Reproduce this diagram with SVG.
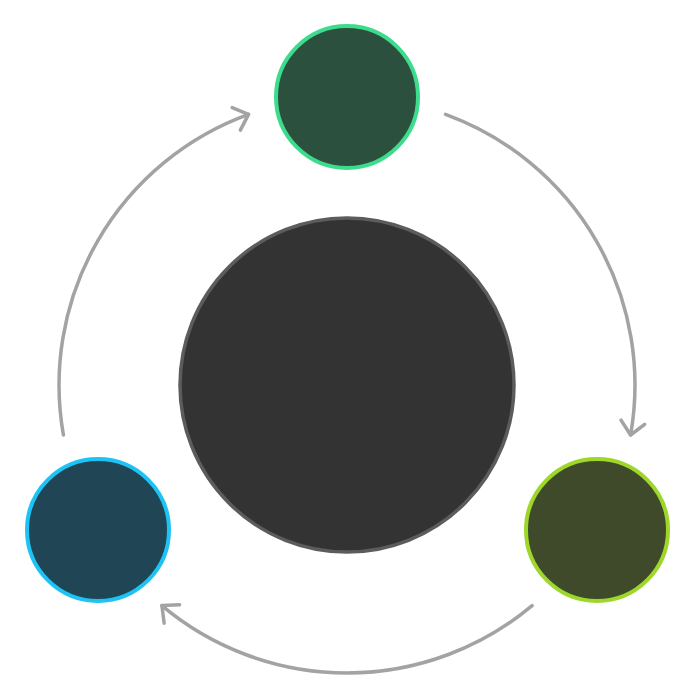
<svg xmlns="http://www.w3.org/2000/svg" width="695" height="700" viewBox="0 0 695 700">
  <style>
    .arc { fill: none; stroke: #a3a3a3; stroke-width: 3.5; stroke-linecap: round; }
    .node { stroke-width: 4; }
  </style>
  <defs>
    <marker id="chev" markerUnits="userSpaceOnUse" markerWidth="40" markerHeight="40" viewBox="-20 -20 40 40" refX="0" refY="0" orient="auto">
      <path d="M-13,-12 L0,0 L-13,12" fill="none" stroke="#a3a3a3" stroke-width="3.5" stroke-linecap="round" stroke-linejoin="round"/>
    </marker>
  </defs>
  <rect width="695" height="700" fill="#ffffff"/>
  <g id="connectors">
    <path class="arc" d="M445.5,114.4 A288,288 0 0 1 630.6,435.0" marker-end="url(#chev)"/>
    <path class="arc" d="M532.1,605.6 A288,288 0 0 1 161.9,605.6" marker-end="url(#chev)"/>
    <path class="arc" d="M63.4,435.0 A288,288 0 0 1 248.5,114.4" marker-end="url(#chev)"/>
  </g>
  <g id="center">
    <circle cx="347" cy="385" r="167" fill="#333333" stroke="#5c5c5c" stroke-width="3.5"/>
  </g>
  <g id="top">
    <circle class="node" cx="347" cy="97" r="71" fill="#2b503e" stroke="#3ddc8c"/>
  </g>
  <g id="right">
    <circle class="node" cx="597" cy="530" r="71" fill="#3e4a2a" stroke="#9ed62a"/>
  </g>
  <g id="left">
    <circle class="node" cx="98" cy="530" r="71" fill="#204555" stroke="#1ec3f5"/>
  </g>
</svg>
